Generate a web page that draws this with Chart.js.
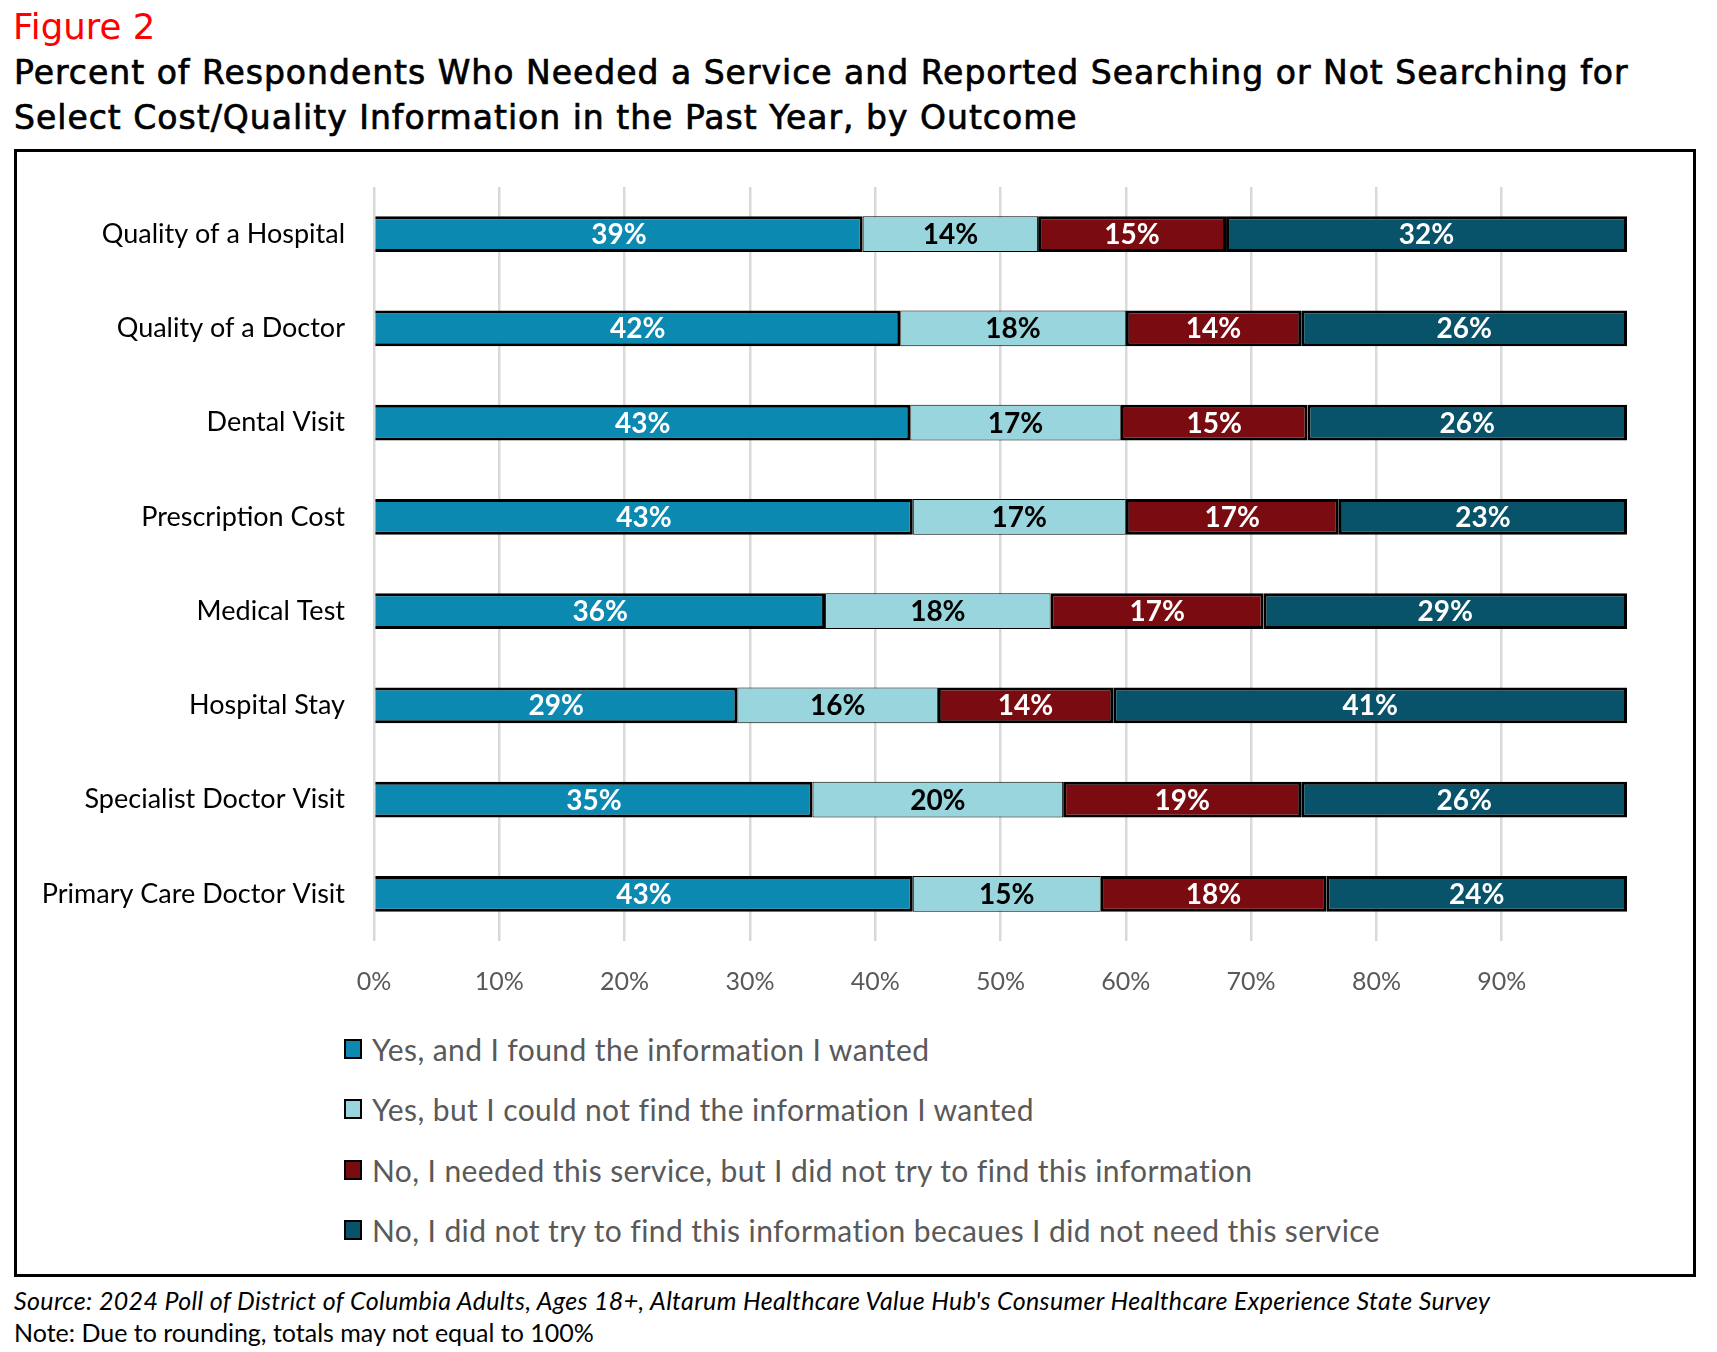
<!DOCTYPE html>
<html>
<head>
<meta charset="utf-8">
<script src="https://cdn.jsdelivr.net/npm/chart.js@4.4.1/dist/chart.umd.min.js"></script>
<style>
  body { margin: 0; background: #fff; width: 1717px; height: 1352px; position: relative; overflow: hidden; font-family: Lato, sans-serif; }
  #fig { position: absolute; left: 13px; top: 6px; font-family: 'DejaVu Sans', sans-serif; font-size: 35.5px; line-height: 42px; color: #ff0000; }
  #title { position: absolute; left: 14px; top: 50px; margin: 0; font-family: 'DejaVu Sans', sans-serif; font-size: 33px; line-height: 45px;
           letter-spacing: 1px; font-weight: normal; -webkit-text-stroke: 0.7px #000; color: #000; white-space: nowrap; }
  #box { position: absolute; left: 14px; top: 149px; width: 1676px; height: 1122px; border: 3px solid #000; }
  #chartWrap { position: absolute; left: 0; top: 0; width: 1676px; height: 870px; }
  #legend { position: absolute; left: 327px; top: 881px; }
  .item { display: flex; align-items: center; height: 32px; margin-bottom: 28.3px; font-size: 30px; letter-spacing: 0.4px; color: #595959; }
  .swatch { width: 14px; height: 16px; border: 2px solid #000; margin-right: 10px; }
  .foot { position: absolute; left: 14px; font-size: 25px; line-height: 28px; color: #000; }
</style>
</head>
<body>
<div id="fig">Figure 2</div>
<h1 id="title">Percent of Respondents Who Needed a Service and Reported Searching or Not Searching for<br>Select Cost/Quality Information in the Past Year, by Outcome</h1>
<div id="box">
  <div id="chartWrap"><canvas id="outcomeChart"></canvas></div>
  <div id="legend"></div>
</div>
<div class="foot" style="top:1286px; font-style:italic; letter-spacing:0.35px;">Source: 2024 Poll of District of Columbia Adults, Ages 18+, Altarum Healthcare Value Hub's Consumer Healthcare Experience State Survey</div>
<div class="foot" style="top:1318px;">Note: Due to rounding, totals may not equal to 100%</div>

<script>
const categories = ['Quality of a Hospital', 'Quality of a Doctor', 'Dental Visit', 'Prescription Cost',
    'Medical Test', 'Hospital Stay', 'Specialist Doctor Visit', 'Primary Care Doctor Visit'];

// percent of respondents per outcome (dental row, labels round them)
const foundInfo = [39, 42, 42.8, 43, 36, 29, 35, 43];
const notFoundInfo = [14, 18, 16.8, 17, 18, 16, 20, 15];
const neededNoTry = [15, 14, 14.9, 17, 17, 14, 19, 18];
const notNeeded = [32, 26, 25.5, 23, 29, 41, 26, 24];

const seriesNames = ['Yes, and I found the information I wanted',
    'Yes, but I could not find the information I wanted',
    'No, I needed this service, but I did not try to find this information',
    'No, I did not try to find this information becaues I did not need this service'];
const seriesColors = ['#0B89B1', '#98D5DC', '#7A0B10', '#08536A'];
const labelColors = ['#ffffff', '#000000', '#ffffff', '#ffffff'];

const xTicks = [0, 10, 20, 30, 40, 50, 60, 70, 80, 90];

// value labels in the middle of each segment
const barLabels = {
    id: 'barLabels',
    afterDatasetsDraw(chart) {
        const ctx = chart.ctx;
        ctx.save();
        ctx.font = 'bold 28px Lato';
        ctx.textAlign = 'center';
        ctx.textBaseline = 'middle';
        chart.data.datasets.forEach((ds, i) => {
            chart.getDatasetMeta(i).data.forEach((bar, j) => {
                const p = bar.getCenterPoint();
                ctx.fillStyle = labelColors[i];
                ctx.fillText(Math.round(ds.data[j]) + '%', p.x, p.y + 1);
            });
        });
        ctx.restore();
    }
};

const ctx = document.getElementById('outcomeChart').getContext('2d');
const outcomeChart = new Chart(ctx, {
    type: 'bar',
    data: {
        labels: categories,
        datasets: [foundInfo, notFoundInfo, neededNoTry, notNeeded].map((vals, i) => ({
            label: seriesNames[i],
            data: vals,
            backgroundColor: seriesColors[i],
            borderColor: '#000',
            borderWidth: i === 1 ? 1 : 3,
            borderSkipped: i === 0 ? 'start' : false,
            barPercentage: 0.38,
            categoryPercentage: 1
        }))
    },
    options: {
        indexAxis: 'y',
        responsive: true,
        maintainAspectRatio: false,
        animation: false,
        layout: { padding: { top: 35, right: 66, bottom: 0, left: 0 } },
        plugins: {
            legend: { display: false },
            tooltip: { enabled: false }
        },
        scales: {
            x: {
                stacked: true,
                min: 0,
                max: 100,
                afterBuildTicks: axis => { axis.ticks = xTicks.map(v => ({ value: v })); },
                afterFit: axis => { axis.height = 81; axis.paddingLeft = 0; axis.paddingRight = 0; },
                ticks: {
                    callback: v => v + '%',
                    color: '#595959',
                    font: { family: 'Lato', size: 25 },
                    padding: 26
                },
                grid: { color: '#d9d9d9', lineWidth: 2.5, drawTicks: false },
                border: { display: false }
            },
            y: {
                stacked: true,
                afterFit: axis => { axis.width = 357; axis.paddingTop = 0; axis.paddingBottom = 0; },
                ticks: {
                    color: '#000',
                    font: { family: 'Lato', size: 27 },
                    padding: 29
                },
                grid: { display: false, drawTicks: false },
                border: { display: false }
            }
        }
    },
    plugins: [barLabels]
});

// legend, one row per series
const legend = document.getElementById('legend');
outcomeChart.data.datasets.forEach(ds => {
    const row = document.createElement('div');
    row.className = 'item';
    const sw = document.createElement('span');
    sw.className = 'swatch';
    sw.style.background = ds.backgroundColor;
    const txt = document.createElement('span');
    txt.textContent = ds.label;
    row.appendChild(sw);
    row.appendChild(txt);
    legend.appendChild(row);
});
</script>
</body>
</html>
